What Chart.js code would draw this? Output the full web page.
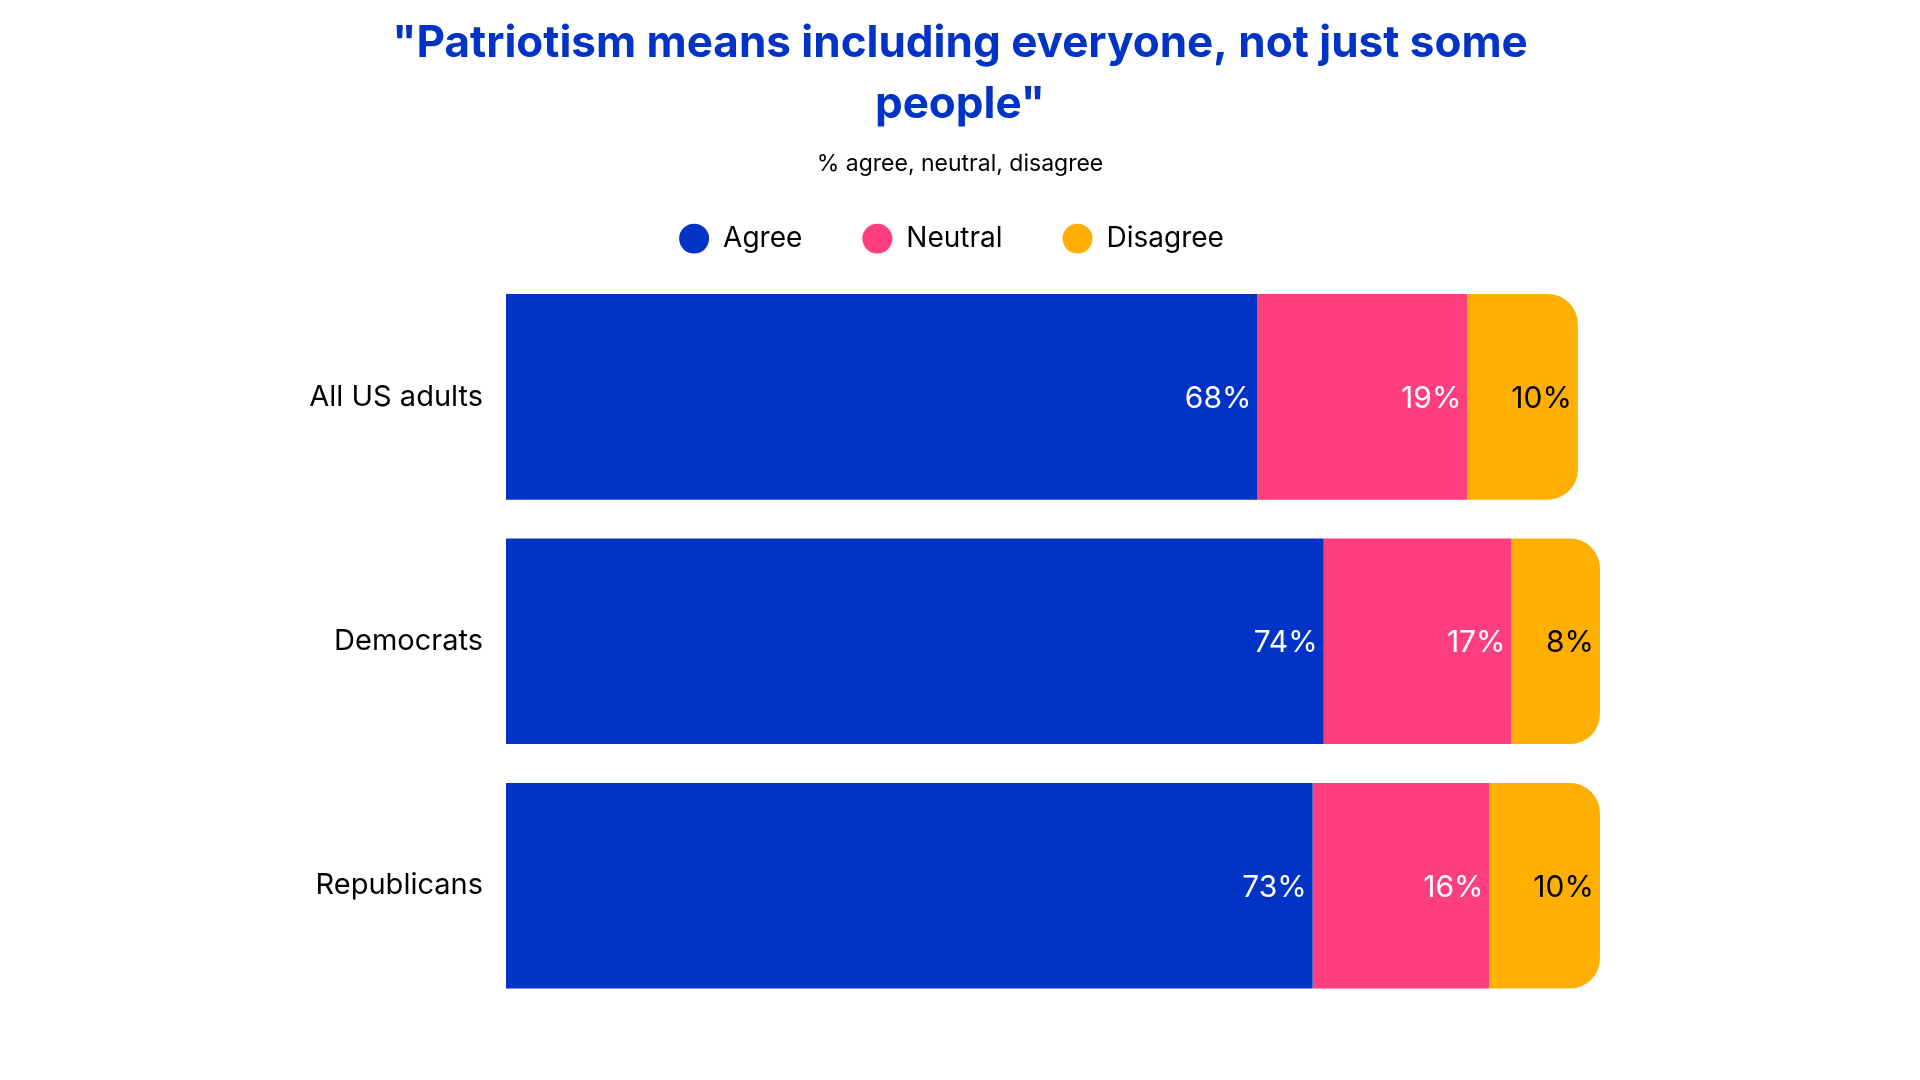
<html>
<head>
<style>
  body { margin: 0; background: #fff; }
</style>
</head>
<body>
<canvas id="chart" width="1920" height="1080"></canvas>
<script src="https://cdn.jsdelivr.net/npm/chart.js@4.4.0/dist/chart.umd.min.js"></script>
<script>
// data
var categories = ['All US adults', 'Democrats', 'Republicans'];
var seriesNames = ['Agree', 'Neutral', 'Disagree'];
var agree = [68, 74, 73];
var neutral = [19, 17, 16];
var disagree = [10, 8, 10];

var BLUE = '#0033c6';
var PINK = '#ff3f7d';
var YELLOW = '#ffaf00';
var FONT = 'Inter';

// percentage labels right-aligned inside each segment
var valueLabels = {
    id: 'valueLabels',
    afterDatasetsDraw: function(chart) {
        var ctx = chart.ctx;
        ctx.save();
        ctx.font = '30px ' + FONT;
        ctx.textAlign = 'right';
        ctx.textBaseline = 'middle';
        chart.data.datasets.forEach(function(ds, i) {
            var meta = chart.getDatasetMeta(i);
            meta.data.forEach(function(bar, j) {
                ctx.fillStyle = ds.labelColor;
                ctx.fillText(ds.data[j] + '%', bar.x - 6, bar.y + 2);
            });
        });
        ctx.restore();
    }
};

// nudge the legend, and give the long category label room so it isn't clipped
var layoutNudge = {
    id: 'layoutNudge',
    afterLayout: function(chart) {
        chart.legend.left -= 17;
        chart.legend.top -= 12;
        chart.scales.y.left -= 40;
    }
};

var ctx = document.getElementById('chart').getContext('2d');
var chart = new Chart(ctx, {
    type: 'bar',
    data: {
        labels: categories,
        datasets: [
            { label: seriesNames[0], data: agree, backgroundColor: BLUE, labelColor: '#fff' },
            { label: seriesNames[1], data: neutral, backgroundColor: PINK, labelColor: '#fff' },
            { label: seriesNames[2], data: disagree, backgroundColor: YELLOW, labelColor: '#000', borderRadius: 30, borderSkipped: 'start' }
        ]
    },
    options: {
        indexAxis: 'y',
        responsive: false,
        animation: false,
        events: [],
        layout: { padding: { left: 309, right: 309, top: 0, bottom: 72 } },
        datasets: {
            bar: { barPercentage: 0.841, categoryPercentage: 1, borderWidth: 0 }
        },
        scales: {
            x: { stacked: true, min: 0, max: 100, display: false },
            y: {
                stacked: true,
                grid: { display: false, drawTicks: false },
                border: { display: false },
                ticks: { color: '#000', padding: 23, font: { family: FONT, size: 29 } },
                afterFit: function(scale) { scale.width = 197; }
            }
        },
        plugins: {
            title: {
                display: true,
                text: ['"Patriotism means including everyone, not just some', 'people"'],
                color: BLUE,
                font: { family: FONT, size: 44, weight: 'bold', lineHeight: 1.39 },
                padding: { top: 13, bottom: 16 }
            },
            subtitle: {
                display: true,
                text: '% agree, neutral, disagree',
                color: '#000',
                font: { family: FONT, size: 23, lineHeight: 1.1 },
                padding: { top: 0, bottom: 0 }
            },
            legend: {
                display: true,
                labels: {
                    usePointStyle: true,
                    pointStyle: 'circle',
                    pointStyleWidth: 30,
                    boxHeight: 21.2,
                    padding: 60,
                    color: '#000',
                    font: { family: FONT, size: 28, lineHeight: 1 }
                }
            },
            tooltip: { enabled: false }
        }
    },
    plugins: [valueLabels, layoutNudge]
});
</script>
</body>
</html>
